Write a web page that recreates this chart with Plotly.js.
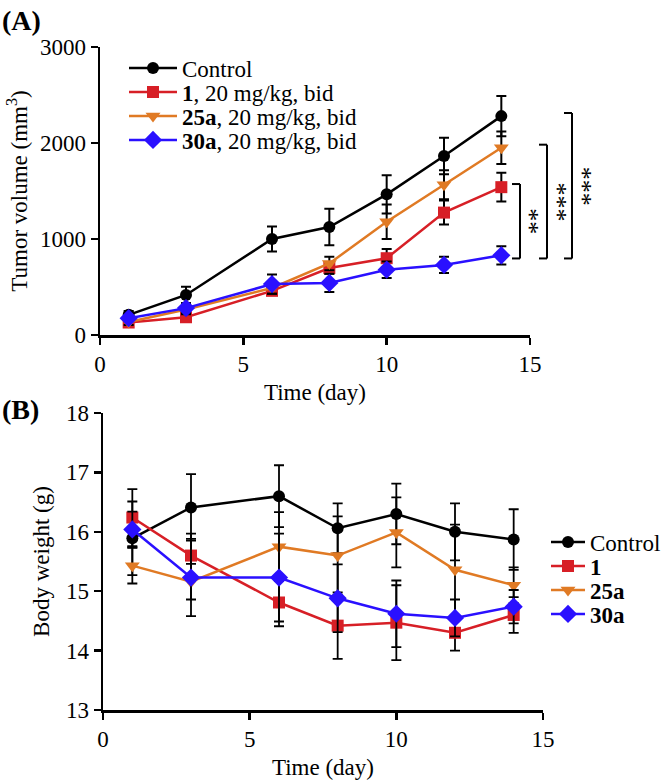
<!DOCTYPE html>
<html>
<head>
<meta charset="utf-8">
<script src="https://cdn.plot.ly/plotly-3.0.1.min.js"></script>
<style>html,body{margin:0;padding:0;background:#fff;}#chart{width:669px;height:781px;}</style>
</head>
<body>
<div id="chart"></div>
<script>
// ---------- data ----------
const days = [1, 3, 6, 8, 10, 12, 14];

// Panel A: tumor volume (mm^3)
const volControl = [210, 417, 1000, 1125, 1465, 1865, 2280];
const volControlErr = [40, 85, 130, 190, 200, 190, 210];
const vol1 = [130, 185, 460, 698, 800, 1275, 1540];
const vol1Err = [30, 40, 40, 60, 95, 125, 150];
const vol25a = [135, 265, 490, 745, 1180, 1565, 1950];
const vol25aErr = [30, 50, 60, 70, 180, 150, 170];
const vol30a = [175, 280, 530, 542, 680, 730, 830];
const vol30aErr = [30, 50, 100, 95, 85, 85, 95];

// Panel B: body weight (g)
const bwControl = [15.89, 16.41, 16.6, 16.06, 16.3, 16.0, 15.87];
const bwControlErr = [0.62, 0.56, 0.52, 0.42, 0.51, 0.48, 0.51];
const bw1 = [16.24, 15.6, 14.81, 14.42, 14.47, 14.3, 14.6];
const bw1Err = [0.48, 0.37, 0.4, 0.56, 0.63, 0.3, 0.3];
const bw25a = [15.43, 15.16, 15.75, 15.6, 15.99, 15.36, 15.1];
const bw25aErr = [0.3, 0.3, 0.58, 0.66, 0.59, 0.76, 0.3];
const bw30a = [16.04, 15.23, 15.23, 14.88, 14.62, 14.55, 14.74];
const bw30aErr = [0.3, 0.65, 0.74, 0.57, 0.56, 0.31, 0.28];

const legendA = ['Control', '<b>1</b>, 20 mg/kg, bid', '<b>25a</b>, 20 mg/kg, bid', '<b>30a</b>, 20 mg/kg, bid'];
const legendB = ['Control', '<b>1</b>', '<b>25a</b>', '<b>30a</b>'];
const sigLabels = ['**', '***', '***'];

const xTicks = [0, 5, 10, 15];
const yTicksA = [0, 1000, 2000, 3000];
const yTicksB = [13, 14, 15, 16, 17, 18];

// ---------- styles ----------
const FONT = 'Liberation Serif';
const colors = ['#000000', '#d71f26', '#e07a24', '#2a10ff'];
const symbols = ['circle', 'square', 'triangle-down', 'diamond'];
const msizes = [12, 12, 13, 14];

const W = 669, H = 781;
const domA = {x: [100 / W, 530 / W], y: [1 - 335 / H, 1 - 47 / H]};
const domB = {x: [103 / W, 543 / W], y: [1 - 710 / H, 1 - 413 / H]};
const rangeA = [0, 3000], rangeB = [13, 18];

const seriesA = [[volControl, volControlErr], [vol1, vol1Err], [vol25a, vol25aErr], [vol30a, vol30aErr]];
const seriesB = [[bwControl, bwControlErr], [bw1, bw1Err], [bw25a, bw25aErr], [bw30a, bw30aErr]];

const traces = [];
seriesA.forEach((s, i) => {
  traces.push({
    x: days, y: s[0], type: 'scatter', mode: 'lines+markers',
    name: legendA[i], xaxis: 'x', yaxis: 'y', legend: 'legend' + (i === 0 ? '' : (i + 1)),
    line: {color: colors[i], width: 2.5},
    marker: {color: colors[i], symbol: symbols[i], size: msizes[i]},
    error_y: {type: 'data', array: s[1], visible: true, color: '#000', thickness: 2, width: 5},
    cliponaxis: false
  });
});
seriesB.forEach((s, i) => {
  traces.push({
    x: days, y: s[0], type: 'scatter', mode: 'lines+markers',
    name: legendB[i], xaxis: 'x2', yaxis: 'y2', legend: 'legend' + (i + 5),
    line: {color: colors[i], width: 2.5},
    marker: {color: colors[i], symbol: symbols[i], size: msizes[i]},
    error_y: {type: 'data', array: s[1], visible: true, color: '#000', thickness: 1.8, width: 5},
    cliponaxis: false
  });
});

function axisBase() {
  return {
    showgrid: false, zeroline: false, showline: true, linecolor: '#000', linewidth: 2.5,
    ticks: 'outside', ticklen: 7, tickwidth: 2.5, tickcolor: '#000',
    tickfont: {family: FONT, size: 23, color: '#000'}, fixedrange: true, automargin: false
  };
}

const layout = {
  width: W, height: H,
  margin: {l: 0, r: 0, t: 0, b: 0, autoexpand: false},
  paper_bgcolor: '#fff', plot_bgcolor: '#fff',
  font: {family: FONT, color: '#000'},
  xaxis: Object.assign(axisBase(), {domain: domA.x, range: [0, 15], tickvals: xTicks, anchor: 'y',
    title: {text: 'Time (day)', font: {family: FONT, size: 23, color: '#000'}, standoff: 8}}),
  yaxis: Object.assign(axisBase(), {domain: domA.y, range: rangeA, tickvals: yTicksA, anchor: 'x',
    title: {text: 'Tumor volume (mm<sup>3</sup>)', font: {family: FONT, size: 23, color: '#000'}, standoff: 6}}),
  xaxis2: Object.assign(axisBase(), {domain: domB.x, range: [0, 15], tickvals: xTicks, anchor: 'y2',
    title: {text: 'Time (day)', font: {family: FONT, size: 23, color: '#000'}, standoff: 8}}),
  yaxis2: Object.assign(axisBase(), {domain: domB.y, range: rangeB, tickvals: yTicksB, anchor: 'x2',
    title: {text: 'Body weight (g)', font: {family: FONT, size: 23, color: '#000'}, standoff: 10}}),
  annotations: [
    {text: '<b>(A)</b>', xref: 'paper', yref: 'paper', x: 0, y: 1 - 20 / H, xanchor: 'left', yanchor: 'middle',
     showarrow: false, font: {family: FONT, size: 28, color: '#000'}},
    {text: '<b>(B)</b>', xref: 'paper', yref: 'paper', x: 0, y: 1 - 409 / H, xanchor: 'left', yanchor: 'middle',
     showarrow: false, font: {family: FONT, size: 28, color: '#000'}}
  ],
  shapes: [],
  showlegend: true
};

// separate single-row legends so row spacing matches
const legRowsA = [68, 92, 116, 140];
const legRowsB = [542, 566, 590, 614];
for (let i = 0; i < 8; i++) {
  const key = 'legend' + (i === 0 ? '' : (i + 1));
  const isA = i < 4;
  layout[key] = {
    x: (isA ? 124 : 546) / W, xanchor: 'left',
    y: 1 - (isA ? legRowsA[i] : legRowsB[i - 4]) / H, yanchor: 'middle',
    bgcolor: 'rgba(0,0,0,0)', borderwidth: 0, itemwidth: isA ? 48 : 34,
    font: {family: FONT, size: 23, color: '#000'},
    itemclick: false, itemdoubleclick: false
  };
}

// significance brackets (panel A), y from data values
function yPaperA(v) { return domA.y[0] + (v - rangeA[0]) / (rangeA[1] - rangeA[0]) * (domA.y[1] - domA.y[0]); }
const last = days.length - 1;
const bracketTops = [vol1[last], vol25a[last], volControl[last]];
const bracketBottom = vol30a[last];
const bracketX = [520, 547, 572];
bracketTops.forEach((top, i) => {
  const xr = bracketX[i] / W, xl = (bracketX[i] - 8) / W;
  const yt = yPaperA(top) + 0.004, yb = yPaperA(bracketBottom) - 0.004;
  const line = {color: '#000', width: 2};
  layout.shapes.push({type: 'line', xref: 'paper', yref: 'paper', x0: xr, x1: xr, y0: yb, y1: yt, line});
  layout.shapes.push({type: 'line', xref: 'paper', yref: 'paper', x0: xl, x1: xr, y0: yt, y1: yt, line});
  layout.shapes.push({type: 'line', xref: 'paper', yref: 'paper', x0: xl, x1: xr, y0: yb, y1: yb, line});
  layout.annotations.push({text: sigLabels[i], xref: 'paper', yref: 'paper',
    x: (bracketX[i] + 10) / W, y: (yt + yb) / 2, xanchor: 'center', yanchor: 'middle', textangle: 90,
    showarrow: false, font: {family: FONT, size: 26, color: '#000'}});
});

Plotly.newPlot('chart', traces, layout, {displayModeBar: false, staticPlot: true});
</script>
</body>
</html>
